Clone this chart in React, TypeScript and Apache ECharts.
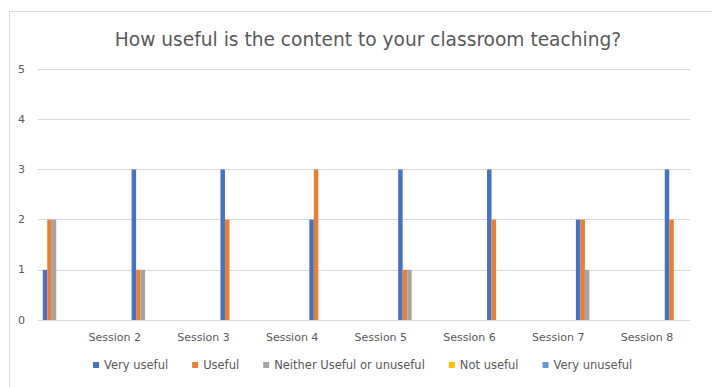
import React, { useEffect, useRef } from "react";
import * as echarts from "echarts";

const categories = ["Session 1", "Session 2", "Session 3", "Session 4", "Session 5", "Session 6", "Session 7", "Session 8"];
const veryUseful = [1, 3, 3, 2, 3, 3, 2, 3];
const useful = [2, 1, 2, 3, 1, 2, 2, 2];
const neither = [2, 1, 0, 0, 1, 0, 1, 0];
const notUseful = [0, 0, 0, 0, 0, 0, 0, 0];
const veryUnuseful = [0, 0, 0, 0, 0, 0, 0, 0];

const seriesDefs = [
  { name: "Very useful", data: veryUseful, color: "#4472C4" },
  { name: "Useful", data: useful, color: "#ED7D31" },
  { name: "Neither Useful or unuseful", data: neither, color: "#A5A5A5" },
  { name: "Not useful", data: notUseful, color: "#FFC000" },
  { name: "Very unuseful", data: veryUnuseful, color: "#5B9BD5" },
];

export default function App() {
  const ref = useRef<HTMLDivElement>(null);
  useEffect(() => {
    if (!ref.current) return;
    const chart = echarts.init(ref.current, null, { renderer: "svg" });
    const font = "DejaVu Sans";
    chart.setOption({
      animation: false,
      backgroundColor: "#ffffff",
      textStyle: { fontFamily: font },
      title: {
        text: "How useful is the content to your classroom teaching?",
        left: 363,
        textAlign: "center",
        top: 25,
        textStyle: { fontFamily: font, fontSize: 18.6, fontWeight: "normal", color: "#595959" },
      },
      graphic: [
        {
          type: "rect",
          left: 7,
          top: 9,
          shape: { width: 760, height: 420 },
          style: { fill: "none", stroke: "#d9d9d9", lineWidth: 1 },
          silent: true,
        },
      ],
      legend: {
        bottom: 11,
        left: 88,
        itemWidth: 6,
        itemHeight: 6,
        itemGap: 24,
        icon: "rect",
        textStyle: { fontFamily: font, fontSize: 11.5, color: "#595959" },
        data: seriesDefs.map((s) => s.name),
      },
      grid: [
        { left: 38, right: 22, top: 69, bottom: 67 },
        { left: 54, right: 36, top: 69, bottom: 67 },
        { left: 26, right: 65, top: 69, bottom: 67 },
      ],
      xAxis: [
        { gridIndex: 0, type: "value", min: 0, max: 1, show: false },
        {
          gridIndex: 1,
          type: "category",
          data: categories,
          boundaryGap: false,
          axisLine: { show: false },
          axisTick: { show: false },
          axisLabel: { show: false },
          splitLine: { show: false },
        },
        {
          gridIndex: 2,
          type: "category",
          data: categories,
          boundaryGap: false,
          axisLine: { show: false },
          axisTick: { show: false },
          splitLine: { show: false },
          axisLabel: {
            margin: 12,
            fontFamily: font,
            fontSize: 11,
            color: "#595959",
            formatter: (v: string, i: number) => (i === 0 ? "" : v),
          },
        },
      ],
      yAxis: [
        {
          gridIndex: 0,
          type: "value",
          min: 0,
          max: 5,
          interval: 1,
          axisLine: { show: false },
          axisTick: { show: false },
          axisLabel: { margin: 13, fontFamily: font, fontSize: 11, color: "#595959" },
          splitLine: { lineStyle: { color: "#d9d9d9", width: 1 } },
        },
        { gridIndex: 1, type: "value", min: 0, max: 5, interval: 1, show: false },
        { gridIndex: 2, type: "value", min: 0, max: 5, interval: 1, show: false },
      ],
      series: seriesDefs.map((s) => ({
        name: s.name,
        type: "bar",
        xAxisIndex: 1,
        yAxisIndex: 1,
        data: s.data,
        barWidth: 4.5,
        barGap: "0%",
        itemStyle: { color: s.color },
      })),
    });
    return () => chart.dispose();
  }, []);
  return <div ref={ref} style={{ position: "fixed", left: 0, top: 0, width: 712, height: 387 }} />;
}
